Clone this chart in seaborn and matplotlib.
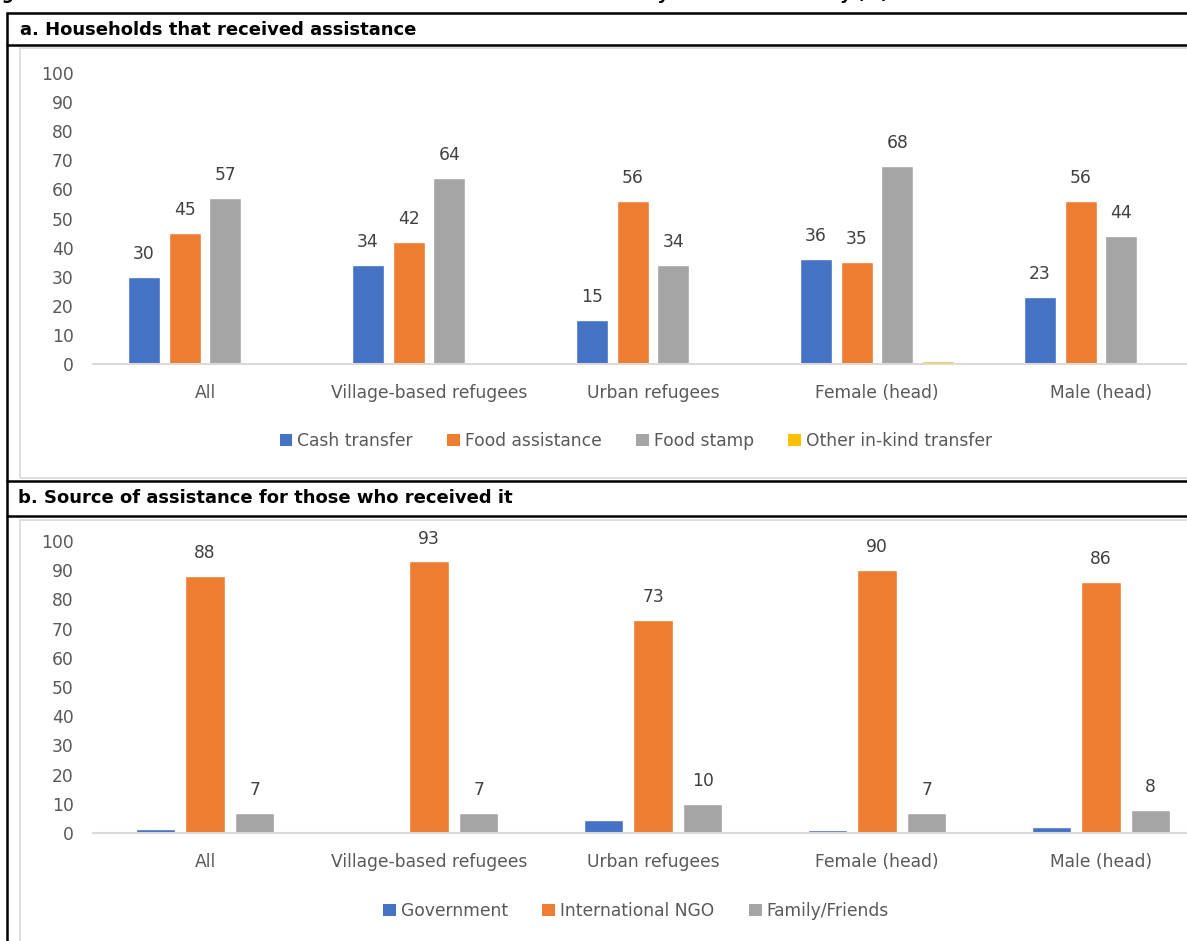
import numpy as np
import pandas as pd
import matplotlib.pyplot as plt
import seaborn as sns
from matplotlib.patches import Patch, Rectangle
from matplotlib.lines import Line2D

# groups shown on the x axis (same for both panels)
groups = ["All", "Village-based refugees", "Urban refugees", "Female (head)", "Male (head)"]

# panel a: households that received assistance (%)
a_series = ["Cash transfer", "Food assistance", "Food stamp", "Other in-kind transfer"]
cash_transfer = [30, 34, 15, 36, 23]
food_assistance = [45, 42, 56, 35, 56]
food_stamp = [57, 64, 34, 68, 44]
other_inkind = [0.7, 0.7, 0, 1.2, 0]

# panel b: source of assistance (%)
b_series = ["Government", "International NGO", "Family/Friends"]
government = [1.5, 0.6, 4.5, 1, 2]
intl_ngo = [88, 93, 73, 90, 86]
family_friends = [7, 7, 10, 7, 8]

colors_a = ["#4472C4", "#ED7D31", "#A5A5A5", "#FFC000"]
colors_b = ["#4472C4", "#ED7D31", "#A5A5A5"]
txt = "#595959"

df_a = pd.DataFrame({
    "group": groups * 4,
    "series": np.repeat(a_series, len(groups)),
    "value": cash_transfer + food_assistance + food_stamp + other_inkind,
})
df_b = pd.DataFrame({
    "group": groups * 3,
    "series": np.repeat(b_series, len(groups)),
    "value": government + intl_ngo + family_friends,
})

sns.set_style("white")
plt.rcParams["font.family"] = ["DejaVu Sans"]

W, H = 1187, 941
fig = plt.figure(figsize=(W / 100, H / 100), dpi=100)


def fx(px):
    return px / W


def fy(py):
    return 1 - py / H


# page frame: black rules and light grey chart boxes
for y in [13, 45, 481, 516]:
    fig.add_artist(Line2D([fx(7), 1], [fy(y), fy(y)], color="black", lw=1.8))
fig.add_artist(Line2D([fx(7), fx(7)], [0, fy(13)], color="black", lw=1.8))
fig.add_artist(Rectangle((fx(20), fy(478)), 1, fy(48) - fy(478), transform=fig.transFigure,
                         fill=False, edgecolor="#d9d9d9", lw=1.2))
fig.add_artist(Rectangle((fx(20), -0.1), 1, fy(520) + 0.1, transform=fig.transFigure,
                         fill=False, edgecolor="#d9d9d9", lw=1.2))

fig.text(fx(-14), fy(-6), "Figure 5: Assistance received and source of assistance in the last 30 days before the survey (%)",
         fontsize=12, fontweight="bold", fontstyle="italic", va="center", ha="left", color="black")
fig.text(fx(20), fy(30), "a. Households that received assistance", fontsize=13,
         fontweight="bold", va="center", ha="left", color="black")
fig.text(fx(18), fy(498), "b. Source of assistance for those who received it", fontsize=13,
         fontweight="bold", va="center", ha="left", color="black")

xmax = 4.5 - (1213 - W) / 224


def draw(ax, df, series, colors, width, gap, labelled):
    sns.barplot(data=df, x="group", y="value", hue="series", hue_order=series,
                palette=colors, width=width, gap=gap, legend=False, ax=ax,
                errorbar=None, saturation=1)
    ax.set_ylim(0, 100)
    ax.set_xlim(-0.5, xmax)
    ax.set_yticks(range(0, 101, 10))
    ax.set_xlabel("")
    ax.set_ylabel("")
    for s in ["top", "right", "left"]:
        ax.spines[s].set_visible(False)
    ax.spines["bottom"].set_color("#d9d9d9")
    ax.spines["bottom"].set_linewidth(1.5)
    ax.tick_params(axis="y", length=0, pad=14, labelsize=12.3, labelcolor=txt)
    ax.tick_params(axis="x", length=0, pad=14.5, labelsize=12.3, labelcolor=txt)
    for i, cont in enumerate(ax.containers):
        if series[i] in labelled:
            vals = df[df["series"] == series[i]]["value"].tolist()
            ax.bar_label(cont, labels=[f"{v:.0f}" for v in vals], padding=10,
                         fontsize=12.3, color="#404040")


ax_a = fig.add_axes([fx(93), fy(364), 1 - fx(93), fy(73) - fy(364)])
draw(ax_a, df_a, a_series, colors_a, 0.73, 0.22, a_series[:3])

ax_b = fig.add_axes([fx(93), fy(833), 1 - fx(93), fy(541) - fy(833)])
draw(ax_b, df_b, b_series, colors_b, 0.665, 0.21, b_series[1:])

for series, colors, ycen in [(a_series, colors_a, 441), (b_series, colors_b, 911)]:
    handles = [Patch(facecolor=c, edgecolor="none") for c in colors]
    fig.legend(handles, series, loc="center", bbox_to_anchor=(fx(636), fy(ycen)),
               ncol=len(series), frameon=False, fontsize=12.3, labelcolor=txt,
               handlelength=0.75, handleheight=0.75, handletextpad=0.3,
               columnspacing=2.0)

fig.savefig("out.png", dpi=100)
